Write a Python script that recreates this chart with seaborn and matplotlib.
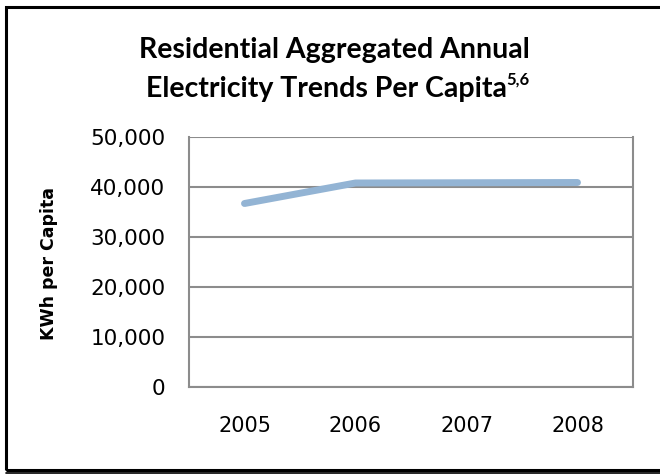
import pandas as pd
import matplotlib.pyplot as plt
import seaborn as sns
from matplotlib.patches import Rectangle
from matplotlib.lines import Line2D

# Data
years = ["2005", "2006", "2007", "2008"]
kwh_per_capita = [36700, 40800, 40850, 40900]
y_ticks = [0, 10000, 20000, 30000, 40000, 50000]

df = pd.DataFrame({"year": years, "kwh": kwh_per_capita})

sns.set_style("white")
plt.rcParams["font.family"] = ["DejaVu Sans"]
plt.rcParams["text.color"] = "black"
plt.rcParams["xtick.labelcolor"] = "black"
plt.rcParams["ytick.labelcolor"] = "black"

grid_color = "#8c8c8c"
line_color = "#93b4d4"

fig = plt.figure(figsize=(6.6, 4.74), dpi=100)
ax = fig.add_axes([189 / 660, 1 - 387 / 474, (633 - 189) / 660, (387 - 137) / 474])

sns.lineplot(data=df, x="year", y="kwh", ax=ax, color=line_color,
             linewidth=5, solid_capstyle="round", zorder=3)

ax.set_xlim(-0.5, len(years) - 0.5)
ax.set_ylim(0, 50000)
ax.set_yticks(y_ticks)
ax.set_yticklabels([f"{v:,}" for v in y_ticks], fontsize=15.5)
ax.set_xticks(range(len(years)))
ax.set_xticklabels(years, fontsize=15)
ax.set_xticks([i - 0.5 for i in range(len(years) + 1)], minor=True)
ax.tick_params(axis="x", which="major", length=0, pad=21)
ax.tick_params(axis="x", which="minor", length=4.5, width=1.5, color=grid_color, direction="out")
ax.tick_params(axis="y", length=5, width=1.5, color=grid_color, direction="out", pad=12)
ax.yaxis.grid(True, color=grid_color, linewidth=1.5)
ax.set_axisbelow(True)
for side in ["left", "bottom", "right"]:
    ax.spines[side].set_visible(True)
    ax.spines[side].set_color(grid_color)
    ax.spines[side].set_linewidth(1.5)
ax.spines["top"].set_visible(False)

ax.set_xlabel("")
ax.set_ylabel("")
fig.text(49 / 660, 1 - 263 / 474, "KWh per Capita", rotation=90, ha="center", va="center",
         fontsize=12.5, fontweight="bold")

# Title (two lines, superscript on second)
title_font = dict(family="Lato", fontweight="bold", fontsize=20.5, ha="center", va="baseline")
fig.text(334 / 660, 1 - 58 / 474, "Residential Aggregated Annual", **title_font)
t2 = fig.text(327 / 660, 1 - 97 / 474, "Electricity Trends Per Capita", **title_font)
renderer = fig.canvas.get_renderer()
bb = t2.get_window_extent(renderer)
fig.text((bb.x1 - 1) / 660, 1 - 85 / 474, "5,6", family="Lato", fontweight="bold",
         fontsize=12, ha="left", va="baseline")

# Outer frame
fig.patches.append(Rectangle((6.5 / 660, 1 - 469.5 / 474), 1.0, (469.5 - 6.5) / 474,
                             transform=fig.transFigure, fill=False, edgecolor="black",
                             linewidth=2.2))
fig.lines.append(Line2D([6 / 660, 1.0], [1 - 473 / 474] * 2, transform=fig.transFigure,
                        color="black", linewidth=1.2))

fig.savefig("out.png", dpi=100)
